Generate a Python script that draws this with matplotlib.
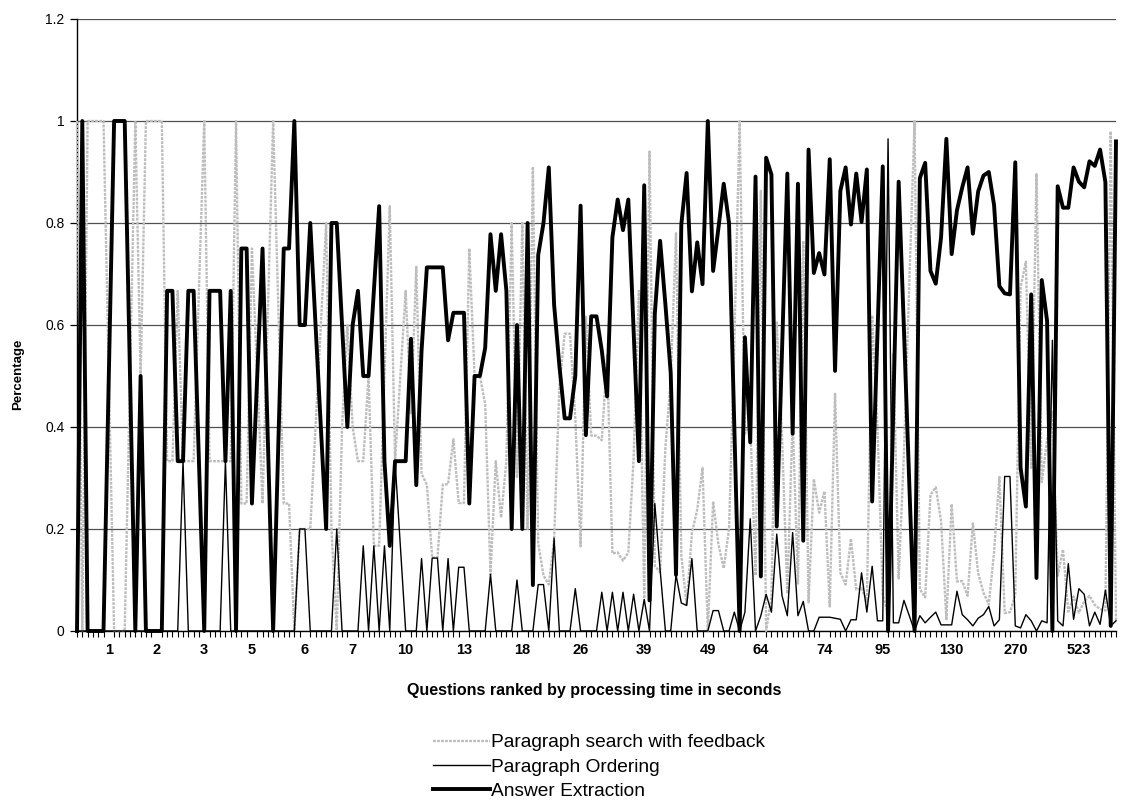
import numpy as np
import matplotlib.pyplot as plt

plt.rcParams['font.family'] = ['Liberation Sans', 'DejaVu Sans']

# share of errors per module, questions ranked by processing time
answer_extraction = [
    0, 1, 0, 0, 0, 0, 0.5, 1, 1, 1,
    0.5, 0, 0.5, 0, 0, 0, 0, 0.667, 0.667, 0.333,
    0.333, 0.667, 0.667, 0.333, 0, 0.667, 0.667, 0.667, 0.333, 0.667,
    0, 0.75, 0.75, 0.25, 0.5, 0.75, 0.375, 0, 0.375, 0.75,
    0.75, 1, 0.6, 0.6, 0.8, 0.6, 0.4, 0.2, 0.8, 0.8,
    0.6, 0.4, 0.6, 0.667, 0.5, 0.5, 0.667, 0.833, 0.333, 0.167,
    0.333, 0.333, 0.333, 0.573, 0.286, 0.55, 0.713, 0.713, 0.713, 0.713,
    0.57, 0.624, 0.624, 0.624, 0.25, 0.5, 0.5, 0.555, 0.778, 0.667,
    0.778, 0.667, 0.2, 0.6, 0.2, 0.8, 0.09, 0.737, 0.8, 0.909,
    0.64, 0.52, 0.417, 0.417, 0.5, 0.834, 0.384, 0.617, 0.617, 0.55,
    0.46, 0.772, 0.846, 0.786, 0.846, 0.59, 0.333, 0.874, 0.06, 0.622,
    0.765, 0.64, 0.506, 0.11, 0.797, 0.898, 0.666, 0.762, 0.68, 1.0,
    0.706, 0.79, 0.877, 0.8, 0.4, 0, 0.576, 0.37, 0.891, 0.107,
    0.928, 0.895, 0.205, 0.55, 0.897, 0.387, 0.877, 0.177, 0.944, 0.702,
    0.741, 0.699, 0.925, 0.51, 0.863, 0.909, 0.797, 0.897, 0.802, 0.905,
    0.254, 0.58, 0.911, 0, 0.44, 0.881, 0.59, 0.29, 0, 0.888,
    0.918, 0.706, 0.681, 0.772, 0.965, 0.739, 0.825, 0.87, 0.909, 0.779,
    0.862, 0.893, 0.9, 0.835, 0.676, 0.662, 0.66, 0.919, 0.32, 0.244,
    0.66, 0.104, 0.688, 0.608, 0, 0.872, 0.83, 0.83, 0.909, 0.881,
    0.87, 0.921, 0.912, 0.944, 0.88, 0.01, 0.96,
]

paragraph_ordering = [
    0, 0, 0, 0, 0, 0, 0, 0, 0, 0,
    0, 0, 0, 0, 0, 0, 0, 0, 0, 0,
    0.333, 0, 0, 0, 0, 0, 0, 0, 0.333, 0,
    0, 0, 0, 0, 0, 0, 0, 0, 0, 0,
    0, 0, 0.2, 0.2, 0, 0, 0, 0, 0, 0.2,
    0, 0, 0, 0, 0.167, 0, 0.167, 0, 0.167, 0,
    0.333, 0.167, 0, 0, 0, 0.142, 0, 0.143, 0.143, 0,
    0.142, 0, 0.125, 0.125, 0, 0, 0, 0, 0.111, 0,
    0, 0, 0, 0.1, 0, 0, 0, 0.091, 0.091, 0,
    0.182, 0, 0, 0, 0.083, 0, 0, 0, 0, 0.076,
    0, 0.076, 0, 0.076, 0, 0.072, 0, 0.062, 0, 0.25,
    0.12, 0, 0, 0.11, 0.055, 0.05, 0.142, 0, 0, 0,
    0.04, 0.04, 0, 0, 0.037, 0, 0.037, 0.22, 0, 0.03,
    0.072, 0.037, 0.19, 0.069, 0.03, 0.193, 0.03, 0.058, 0, 0,
    0.027, 0.027, 0.027, 0.025, 0.023, 0, 0.022, 0.022, 0.114, 0.037,
    0.127, 0.02, 0.02, 0.965, 0.016, 0.016, 0.06, 0.03, 0, 0.03,
    0.016, 0.027, 0.037, 0.012, 0.012, 0.012, 0.078, 0.032, 0.022, 0.01,
    0.025, 0.032, 0.048, 0.01, 0.022, 0.303, 0.303, 0.01, 0.006, 0.032,
    0.02, 0, 0.02, 0.016, 0.57, 0.02, 0.01, 0.132, 0.023, 0.083,
    0.072, 0.01, 0.037, 0.013, 0.08, 0.01, 0.02,
]

paragraph_search = [
    1, 0, 1, 1, 1, 1, 0.5, 0, 0, 0,
    0.5, 1, 0.5, 1, 1, 1, 1, 0.333, 0.333, 0.667,
    0.333, 0.333, 0.333, 0.667, 1, 0.333, 0.333, 0.333, 0.333, 0.333,
    1, 0.25, 0.25, 0.75, 0.5, 0.25, 0.625, 1, 0.625, 0.25,
    0.25, 0, 0.2, 0.2, 0.2, 0.4, 0.6, 0.8, 0.2, 0,
    0.4, 0.6, 0.4, 0.333, 0.333, 0.5, 0.167, 0.167, 0.5, 0.833,
    0.333, 0.5, 0.667, 0.427, 0.714, 0.308, 0.287, 0.144, 0.144, 0.287,
    0.288, 0.376, 0.251, 0.251, 0.75, 0.5, 0.5, 0.445, 0.111, 0.333,
    0.222, 0.333, 0.8, 0.3, 0.8, 0.2, 0.91, 0.172, 0.109, 0.091,
    0.178, 0.48, 0.583, 0.583, 0.417, 0.166, 0.616, 0.383, 0.383, 0.374,
    0.54, 0.152, 0.154, 0.138, 0.154, 0.338, 0.667, 0.064, 0.94, 0.128,
    0.115, 0.36, 0.494, 0.78, 0.148, 0.052, 0.192, 0.238, 0.32, 0,
    0.254, 0.17, 0.123, 0.2, 0.563, 1, 0.387, 0.41, 0.109, 0.863,
    0, 0.068, 0.605, 0.381, 0.073, 0.42, 0.093, 0.765, 0.056, 0.298,
    0.232, 0.274, 0.048, 0.465, 0.114, 0.091, 0.181, 0.081, 0.084, 0.058,
    0.619, 0.4, 0.069, 0.035, 0.544, 0.103, 0.35, 0.68, 1, 0.082,
    0.066, 0.267, 0.282, 0.216, 0.023, 0.249, 0.097, 0.098, 0.069, 0.211,
    0.113, 0.075, 0.052, 0.155, 0.302, 0.035, 0.037, 0.071, 0.674, 0.724,
    0.32, 0.896, 0.292, 0.376, 0.43, 0.108, 0.16, 0.038, 0.068, 0.036,
    0.058, 0.069, 0.051, 0.043, 0.04, 0.98, 0.02,
]

# processing time shown under some of the ranked questions
time_labels = ["1", "2", "3", "5", "6", "7", "10", "13", "18", "26",
               "39", "49", "64", "74", "95", "130", "270", "523"]
label_rank = [6, 15, 24, 33, 43, 52, 62, 73, 84, 95,
              107, 119, 129, 141, 152, 165, 177, 189]

n = len(answer_extraction)
x = np.arange(n)

W, H = 1122, 810
fig = plt.figure(figsize=(W / 100, H / 100), dpi=100)
ax = fig.add_axes([77 / W, 179 / H, (1116 - 77) / W, (631 - 19) / H])

ax.plot(x, paragraph_search, color="#bdbdbd", lw=1.7, ls=(0, (1.2, 0.5)),
        label="Paragraph search with feedback", zorder=3, clip_on=False)
ax.plot(x, paragraph_ordering, color="black", lw=1.0,
        label="Paragraph Ordering", zorder=4, clip_on=False)
ax.plot(x, answer_extraction, color="black", lw=2.8,
        label="Answer Extraction", zorder=5, clip_on=False)

# points sit on the tick marks, first one on the value axis
ax.set_xlim(0, n - 1)
ax.set_ylim(0, 1.2)
ax.set_yticks(np.arange(0, 1.21, 0.2))
ax.set_yticklabels(["0", "0.2", "0.4", "0.6", "0.8", "1", "1.2"], fontsize=10)
ax.yaxis.grid(True, color="#505050", lw=0.9)
ax.set_axisbelow(True)

for s in ["top", "right"]:
    ax.spines[s].set_visible(False)
for s in ["left", "bottom"]:
    ax.spines[s].set_color("black")
    ax.spines[s].set_linewidth(1.0)

ax.tick_params(axis="y", direction="out", length=5, width=0.9, pad=4)
ax.set_xticks(label_rank)
ax.set_xticklabels(time_labels, fontweight="bold", fontsize=10.5)
ax.set_xticks(x, minor=True)
ax.tick_params(axis="x", which="major", length=0, pad=9)
ax.tick_params(axis="x", which="minor", length=4, width=0.8, direction="out")

fig.text(594 / W, 1 - 690 / H, "Questions ranked by processing time in seconds",
         ha="center", va="center", fontweight="bold", fontsize=11.5)
fig.text(18 / W, 1 - 374 / H, "Percentage", rotation=90,
         ha="center", va="center", fontweight="bold", fontsize=9.5)

fig.legend(loc="upper left", bbox_to_anchor=(433 / W, 1 - 734 / H),
           frameon=False, fontsize=13.8, handlelength=2.95, handletextpad=0.08,
           labelspacing=0.36, borderaxespad=0, borderpad=0)

fig.savefig("out.png", dpi=100)
